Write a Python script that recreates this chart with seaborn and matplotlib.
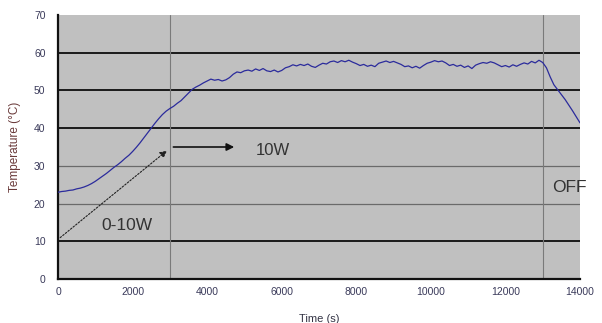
import matplotlib
matplotlib.use("Agg")
import matplotlib.pyplot as plt
import seaborn as sns
import pandas as pd

time_s = list(range(0, 14001, 100))
temp_c = [
    23.0, 23.2, 23.3, 23.5, 23.6, 23.9, 24.1, 24.4, 24.8, 25.3,
    25.9, 26.6, 27.3, 28.0, 28.8, 29.6, 30.3, 31.1, 32.0, 32.8,
    33.8, 34.9, 36.1, 37.4, 38.7, 40.0, 41.3, 42.5, 43.6, 44.5,
    45.2, 45.8, 46.6, 47.3, 48.3, 49.3, 50.3, 50.9, 51.4, 52.0,
    52.5, 53.0, 52.7, 52.9, 52.5, 52.8, 53.4, 54.3, 54.9, 54.7,
    55.2, 55.4, 55.1, 55.7, 55.3, 55.8, 55.2, 55.0, 55.4, 54.9,
    55.3, 56.0, 56.3, 56.8, 56.5, 56.9, 56.6, 57.0, 56.4, 56.1,
    56.7, 57.2, 57.0, 57.6, 57.8, 57.4, 57.9, 57.6, 58.0, 57.5,
    57.1, 56.6, 56.9, 56.4, 56.7, 56.3, 57.2, 57.5, 57.8, 57.4,
    57.7, 57.3, 56.9, 56.3, 56.5, 56.0, 56.4, 55.9, 56.6, 57.2,
    57.5, 57.9, 57.6, 57.8, 57.3, 56.6, 56.9, 56.4, 56.7, 56.1,
    56.5, 55.8, 56.7, 57.1, 57.4, 57.2, 57.6, 57.3, 56.8, 56.3,
    56.6, 56.2, 56.8, 56.4, 56.9, 57.3, 57.0, 57.7, 57.3, 58.0,
    57.4, 56.0, 53.6, 51.5, 50.2, 48.9, 47.6, 46.1, 44.6, 43.0,
    41.4,
]
x_ticks = [0, 2000, 4000, 6000, 8000, 10000, 12000, 14000]
y_ticks = [0, 10, 20, 30, 40, 50, 60, 70]
phase_lines = [3000, 13000]
annotations = ["0-10W", "10W", "OFF"]
x_label = "Time (s)"
y_label = "Temperature (\u00b0C)"

df = pd.DataFrame({"time": time_s, "temp": temp_c})

sns.set_style("white")
plt.rcParams["font.family"] = ["Liberation Sans", "DejaVu Sans"]

fig = plt.figure(figsize=(6.02, 3.23), dpi=100)
ax = fig.add_axes([58 / 602, 1 - 279 / 323, 522 / 602, 264 / 323])
ax.set_facecolor("#c0c0c0")

# horizontal grid lines
for yv in [10, 40, 50, 60]:
    ax.axhline(yv, color="#1a1a1a", lw=1.4, zorder=1)
for yv in [20, 30]:
    ax.axhline(yv, color="#6a6a6a", lw=0.9, zorder=1)
for xv in phase_lines:
    ax.axvline(xv, color="#7a7a7a", lw=0.8, zorder=1)

sns.lineplot(data=df, x="time", y="temp", ax=ax, color="#2b2b9c", lw=0.9, zorder=3)

ax.set_xlim(0, 14000)
ax.set_ylim(0, 70)
ax.set_xticks(x_ticks)
ax.set_yticks(y_ticks)
ax.set_xticklabels([str(v) for v in x_ticks])
ax.set_yticklabels([str(v) for v in y_ticks])
ax.tick_params(axis="x", direction="in", length=3, width=1, color="#222222",
               labelsize=7.5, labelcolor="#3a3a5a", pad=6)
ax.tick_params(axis="y", direction="out", length=3, width=1, color="#222222",
               labelsize=7.5, labelcolor="#3a3a5a", pad=6)

for side in ["top", "right"]:
    ax.spines[side].set_visible(False)
for side in ["left", "bottom"]:
    ax.spines[side].set_visible(True)
    ax.spines[side].set_color("#111111")
    ax.spines[side].set_linewidth(1.6)

ax.set_xlabel(x_label, fontsize=8, color="#333344", labelpad=12)
ax.set_ylabel(y_label, fontsize=8.5, color="#6a3a3a", labelpad=9)

# arrows
ax.annotate("", xy=(2980, 34.5), xytext=(0, 10.5),
            arrowprops=dict(arrowstyle="-|>", color="#222222", lw=0.8,
                            linestyle=(0, (1.5, 1.5)), mutation_scale=10), zorder=4)
ax.annotate("", xy=(4800, 35.0), xytext=(3020, 35.0),
            arrowprops=dict(arrowstyle="-|>", color="#111111", lw=1.2,
                            mutation_scale=11), zorder=4)

ax.text(1850, 14.3, annotations[0], fontsize=12.5, color="#333333", ha="center", va="center")
ax.text(5750, 34.0, annotations[1], fontsize=12, color="#333333", ha="center", va="center")
ax.text(13720, 24.3, annotations[2], fontsize=12.5, color="#333333", ha="center", va="center",
        clip_on=False)

fig.savefig("out.png", dpi=100)
